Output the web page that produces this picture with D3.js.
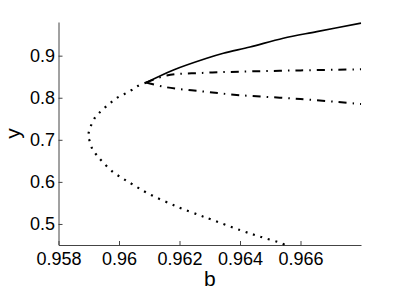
<!DOCTYPE html>
<html>
<head>
<meta charset="utf-8">
<script src="https://cdn.jsdelivr.net/npm/d3@7.9.0/dist/d3.min.js"></script>
<style>
  body { margin: 0; background: #fff; }
  text { font-family: "Liberation Sans", Arial, sans-serif; }
</style>
</head>
<body>
<div id="chart"></div>
<script>
// unstable branch (dotted), from the junction round the fold and down
const unstableB = [0.9609, 0.96064, 0.96042, 0.96018, 0.95996, 0.95974, 0.95954, 0.95935, 0.95921, 0.95907,
  0.95900, 0.95899, 0.95903, 0.95912, 0.95926, 0.95945, 0.95981, 0.96015, 0.96047, 0.96095,
  0.96191, 0.96265, 0.96301, 0.964, 0.9647, 0.96538, 0.9655];
const unstableY = [0.836, 0.8286, 0.8183, 0.809, 0.801, 0.789, 0.777, 0.7643, 0.7531, 0.733,
  0.7174, 0.705, 0.6976, 0.678, 0.664, 0.648, 0.623, 0.607, 0.593, 0.573,
  0.5414, 0.521, 0.5117, 0.4855, 0.469, 0.454, 0.45];

// solid branch
const solidB = [0.9609, 0.9618, 0.9629, 0.96345, 0.96433, 0.96543, 0.96654, 0.968];
const solidY = [0.836, 0.866, 0.8938, 0.9057, 0.9207, 0.9414, 0.9571, 0.9775];

// dash-dot branches
const dashB = [0.9609, 0.96158, 0.96275, 0.964, 0.966, 0.968];
const upperDashY = [0.836, 0.853, 0.859, 0.862, 0.865, 0.8675];
const lowerDashY = [0.836, 0.8248, 0.815, 0.806, 0.797, 0.785];

const xTicks = [0.958, 0.96, 0.962, 0.964, 0.966];
const xTickLabels = ["0.958", "0.96", "0.962", "0.964", "0.966"];
const yTicks = [0.5, 0.6, 0.7, 0.8, 0.9];
const yTickLabels = ["0.5", "0.6", "0.7", "0.8", "0.9"];

const width = 399;
const height = 291;
const margin = { top: 22, right: 38, bottom: 46, left: 58.5 };

const svg = d3.select("#chart")
  .append("svg")
  .attr("width", width)
  .attr("height", height);

const xScale = d3.scaleLinear()
  .domain([0.958, 0.968])
  .range([margin.left, width - margin.right]);

const yScale = d3.scaleLinear()
  .domain([0.45, 0.98])
  .range([height - margin.bottom, margin.top]);

// axes, ticks pointing inward
const xAxis = d3.axisBottom(xScale)
  .tickValues(xTicks)
  .tickFormat((d, i) => xTickLabels[i])
  .tickSizeInner(-4)
  .tickSizeOuter(0)
  .tickPadding(7);

const yAxis = d3.axisLeft(yScale)
  .tickValues(yTicks)
  .tickFormat((d, i) => yTickLabels[i])
  .tickSizeInner(-4)
  .tickSizeOuter(0)
  .tickPadding(3.5);

const gx = svg.append("g")
  .attr("transform", `translate(0,${height - margin.bottom})`)
  .call(xAxis);

const gy = svg.append("g")
  .attr("transform", `translate(${margin.left},0)`)
  .call(yAxis);

[gx, gy].forEach(g => {
  g.select(".domain").attr("stroke", "#444");
  g.selectAll(".tick line").attr("stroke", "#444");
  g.selectAll(".tick text")
    .attr("fill", "#000")
    .style("font-size", "18px")
    .style("font-family", "'Liberation Sans', Arial, sans-serif");
});

// axis labels
svg.append("text")
  .attr("x", (xScale.range()[0] + xScale.range()[1]) / 2)
  .attr("y", 286)
  .attr("text-anchor", "middle")
  .style("font-size", "21px")
  .text("b");

svg.append("text")
  .attr("transform", `translate(20,${(yScale.range()[0] + yScale.range()[1]) / 2}) rotate(-90)`)
  .attr("text-anchor", "middle")
  .style("font-size", "21px")
  .text("y");

const line = d3.line()
  .x(d => xScale(d[0]))
  .y(d => yScale(d[1]))
  .curve(d3.curveCatmullRom);

// dotted unstable branch
svg.append("path")
  .datum(unstableB.map((b, i) => [b, unstableY[i]]))
  .attr("fill", "none")
  .attr("stroke", "#000")
  .attr("stroke-width", 2.2)
  .attr("stroke-dasharray", "2,5.8")
  .attr("d", line);

// solid branch
svg.append("path")
  .datum(solidB.map((b, i) => [b, solidY[i]]))
  .attr("fill", "none")
  .attr("stroke", "#000")
  .attr("stroke-width", 1.7)
  .attr("d", line);

// dash-dot branches
[upperDashY, lowerDashY].forEach(ys => {
  svg.append("path")
    .datum(dashB.map((b, i) => [b, ys[i]]))
    .attr("fill", "none")
    .attr("stroke", "#000")
    .attr("stroke-width", 2)
    .attr("stroke-dasharray", "8,6,1.5,6")
    .attr("d", line);
});
</script>
</body>
</html>
